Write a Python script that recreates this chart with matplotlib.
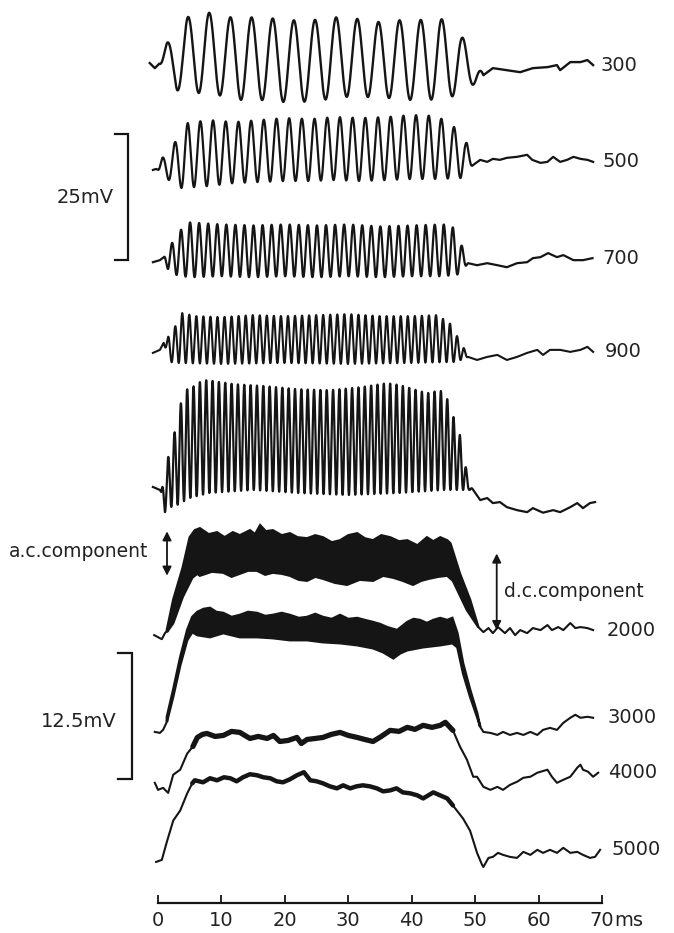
import numpy as np
import matplotlib
matplotlib.use("Agg")
import matplotlib.pyplot as plt

plt.rcParams['font.family'] = ['DejaVu Sans']

# ---------------- data (time in ms, voltage in mV) ----------------
# stimulus frequencies (Hz) of the traces, top to bottom
freqs = [300, 500, 700, 900, 1000, 2000, 3000, 4000, 5000]
labels = ["300", "500", "700", "900", "", "2000", "3000", "4000", "5000"]

# --- 300 Hz
pre300_t = [-1.3, -0.5]
pre300_v = [0.4, -0.6]
peak300 = 1.42
hi300_t = [0.2, 1.42, 4.57, 7.73, 10.9, 14.2, 17.7, 21.0, 24.3, 27.6, 30.9, 34.2, 37.7, 41.0, 44.3, 47.5, 50.3, 51.3]
hi300_v = [0.3, 4.4, 9.5, 10.5, 9.5, 9.5, 9.3, 8.9, 8.9, 9.5, 9.3, 8.5, 8.9, 8.9, 9.5, 6.5, 1.0, -2.0]
lo300_t = [0.2, 3.0, 6.2, 9.3, 12.8, 16.1, 19.4, 22.7, 26.0, 29.3, 32.6, 36.1, 39.4, 42.7, 45.9, 49.1, 51.3]
lo300_v = [0.3, -5.0, -5.5, -5.9, -6.9, -6.9, -7.3, -7.3, -6.9, -6.3, -6.3, -6.5, -6.9, -6.9, -6.5, -4.6, -2.0]
tail300_t = [52.8, 55.0, 57.1, 59.1, 61.4, 62.9, 63.4, 65.0, 66.6, 67.7, 68.6]
tail300_v = [-0.6, -1.0, -1.4, -0.6, -0.4, 0.0, -1.0, 0.6, 0.6, 1.0, 0.0]

# --- 500 Hz
pre500_t = [-0.8, -0.3]
pre500_v = [0.0, 0.2]
peak500 = 0.68
hi500_t = [0.0, 0.68, 2.68, 4.68, 8, 12, 16, 20, 24, 28, 32, 36, 40, 44, 46.7, 48.7, 49.7]
hi500_v = [0.0, 2.4, 5.5, 9.3, 9.9, 9.5, 9.9, 10.3, 10.1, 10.5, 10.3, 10.5, 10.9, 10.7, 8.5, 5.3, 1.0]
lo500_t = [0.0, 1.7, 3.7, 5.7, 8, 12, 16, 20, 24, 28, 32, 36, 40, 44, 47.7, 49.7]
lo500_v = [0.0, -2.0, -3.6, -3.4, -3.2, -2.6, -2.4, -2.2, -2.2, -2.0, -2.2, -2.0, -1.8, -1.8, -1.6, 1.0]
tail500_t = [50.8, 51.9, 52.8, 53.9, 55.0, 56.6, 58.2, 59.0, 60.3, 61.4, 62.3, 63.4, 64.5, 65.5, 66.6, 67.7, 68.6]
tail500_v = [2.0, 1.6, 2.2, 2.0, 2.4, 2.6, 3.0, 2.0, 1.4, 1.6, 2.6, 1.6, 2.0, 2.6, 2.2, 2.0, 1.6]

# --- 700 Hz
pre700_t = [-0.8, 0.3]
pre700_v = [0.0, 0.4]
peak700 = 2.2
hi700_t = [0.9, 2.2, 3.5, 5.0, 10, 15, 20, 25, 30, 35, 40, 45, 46.5, 48.0, 48.9]
hi700_v = [1.0, 3.8, 6.3, 7.9, 7.5, 7.3, 7.5, 7.3, 7.5, 7.1, 7.3, 7.5, 6.9, 3.0, -0.2]
lo700_t = [0.9, 1.6, 3.0, 5.0, 10, 15, 20, 25, 30, 35, 40, 45, 47.5, 48.9]
lo700_v = [1.0, -1.6, -2.6, -3.0, -2.8, -3.0, -2.8, -3.0, -2.8, -3.0, -2.8, -2.8, -2.4, -0.2]
tail700_t = [50.3, 51.9, 53.5, 55.0, 56.6, 58.2, 59.1, 60.3, 61.5, 62.9, 63.9, 65.5, 67.0, 68.5]
tail700_v = [-0.6, -0.2, -0.6, -1.0, -0.2, 0.0, 0.8, 1.0, 1.8, 1.0, 1.4, 0.4, 0.4, 0.8]

# --- 900 Hz
pre900_t = [-0.8, 0.3]
pre900_v = [0.0, 0.6]
peak900 = 1.6
hi900_t = [0.9, 1.6, 2.4, 3.0, 3.8, 6, 10, 15, 20, 25, 30, 35, 40, 44, 46.0, 46.8, 47.6, 48.9]
hi900_v = [2.0, 3.2, 4.6, 5.9, 7.9, 7.3, 7.1, 7.5, 7.3, 7.5, 7.7, 7.3, 7.3, 7.5, 5.9, 3.9, 2.6, -0.8]
lo900_t = [0.9, 1.8, 3.0, 10, 20, 30, 40, 47.0, 48.9]
lo900_v = [2.0, -1.8, -2.0, -2.2, -2.0, -2.2, -2.0, -1.8, -0.8]
tail900_t = [50.3, 51.9, 53.5, 55.0, 56.6, 58.2, 59.8, 60.7, 61.8, 63.4, 65.0, 66.6, 67.7, 68.6]
tail900_v = [-1.4, -0.8, -0.4, -1.4, -0.8, 0.0, 0.6, -0.4, 0.6, 0.6, 0.2, 0.6, 1.2, 0.2]

# --- 1000 Hz (unlabelled trace)
pre1000_t = [-0.8, 0.3]
pre1000_v = [0.0, -0.6]
peak1000 = 1.6
hi1000_t = [0.5, 1.6, 2.7, 3.5, 4.3, 5.4, 6.6, 7.7, 12, 17, 22, 27, 32, 36.1, 38.2, 42.4, 44.5, 46.1, 46.8, 47.6, 48.4, 48.9, 49.7]
hi1000_v = [-1.0, 5.9, 11.3, 16.2, 19.2, 19.8, 20.8, 21.2, 20.4, 20.0, 19.4, 19.2, 19.8, 20.6, 20.2, 18.6, 19.2, 16.6, 12.7, 10.3, 5.3, 0.8, -0.6]
lo1000_t = [0.5, 1.1, 2.0, 3.0, 5.0, 8, 15, 22, 30, 38, 45, 48.0, 49.7]
lo1000_v = [-1.0, -5.0, -4.0, -3.6, -2.2, -1.2, -0.6, -1.2, -1.6, -1.2, -0.6, -0.6, -0.6]
tail1000_t = [50.8, 51.9, 52.8, 53.9, 55.0, 56.6, 58.2, 59.1, 60.7, 62.3, 63.4, 65.0, 66.1, 67.0, 68.1, 68.9]
tail1000_v = [-2.6, -2.2, -3.2, -3.0, -4.0, -4.6, -5.0, -4.2, -5.1, -4.6, -5.0, -4.0, -3.2, -4.2, -3.2, -3.0]

# --- 2000 Hz (12.5 mV scale) : a.c. band edges
pre2000_t = [-0.6, 0.6, 1.1, 1.4]
pre2000_v = [0.0, -0.4, 0.2, 0.4]
top2000_t = [1.4, 2.4, 3.9, 5.0, 5.8, 6.6, 8.0, 9.3, 10.5, 11.8, 12.9, 14.5, 15.3, 16.1, 17.0, 18.1, 19.5, 20.8, 22.0, 23.5, 24.8, 26.0, 27.4, 28.7, 30.0, 31.4, 32.6, 33.9, 35.2, 36.6, 38.0, 39.3, 40.9, 42.4, 43.4, 44.5, 45.6, 46.1, 47.6, 49.2, 50.5]
top2000_v = [0.5, 3.5, 6.7, 9.7, 10.4, 10.6, 10.0, 10.2, 9.7, 10.2, 9.9, 10.4, 10.0, 10.9, 10.3, 10.4, 9.9, 10.1, 9.7, 9.6, 9.9, 9.7, 9.2, 9.4, 9.9, 10.1, 9.6, 9.4, 9.9, 9.7, 9.3, 9.4, 8.9, 9.7, 9.3, 9.7, 9.4, 9.1, 6.1, 3.5, 0.8]
bot2000_t = [1.4, 2.4, 3.9, 5.4, 6.2, 6.6, 8.5, 10.3, 11.6, 12.9, 14.2, 15.6, 16.9, 18.1, 19.5, 20.8, 22.2, 23.5, 24.8, 26.0, 27.9, 29.8, 31.8, 33.9, 35.5, 37.1, 38.6, 40.2, 41.5, 42.7, 44.2, 45.6, 46.5, 48.7, 50.5]
bot2000_v = [0.3, 1.2, 3.8, 5.7, 6.1, 5.9, 6.3, 6.2, 5.8, 6.1, 6.4, 6.4, 6.0, 6.2, 6.1, 5.9, 5.5, 5.4, 5.8, 5.6, 5.2, 5.0, 5.5, 5.4, 5.9, 5.7, 5.4, 5.0, 5.4, 5.6, 5.8, 5.9, 5.4, 2.5, 0.8]
tail2000_t = [50.5, 51.3, 52.1, 52.8, 53.6, 54.7, 55.5, 56.3, 57.1, 58.2, 59.1, 60.3, 61.4, 62.1, 63.1, 63.9, 65.0, 65.8, 66.6, 67.7, 68.6]
tail2000_v = [0.8, 0.3, 0.7, 0.2, 0.8, 0.2, 0.7, 0.0, 0.5, 0.2, 0.7, 0.5, 1.0, 0.5, 0.8, 0.5, 1.2, 0.7, 0.8, 0.7, 0.5]

# --- 3000 Hz
pre3000_t = [-0.5, 0.3, 0.8, 1.4]
pre3000_v = [0.0, -0.1, 0.2, 1.0]
top3000_t = [1.4, 2.4, 3.5, 4.6, 5.4, 6.2, 7.2, 8.2, 9.2, 10.3, 11.6, 12.9, 14.2, 15.6, 16.9, 18.1, 19.5, 20.8, 22.2, 23.5, 24.8, 26.0, 27.4, 28.7, 30.0, 31.4, 32.6, 33.9, 35.0, 36.1, 37.7, 38.5, 39.3, 40.3, 41.3, 42.4, 43.4, 44.5, 45.6, 46.4, 47.2, 48.1, 49.2, 50.3, 50.8]
top3000_v = [1.5, 4.2, 7.4, 10.1, 11.4, 11.9, 12.2, 12.3, 11.9, 11.8, 11.4, 11.6, 11.9, 11.8, 11.5, 11.6, 11.8, 11.6, 11.3, 11.4, 11.7, 11.4, 11.2, 11.6, 11.2, 11.3, 11.1, 10.9, 10.7, 10.4, 10.1, 10.5, 10.9, 11.2, 11.1, 10.8, 11.1, 11.3, 11.1, 11.3, 9.8, 6.8, 4.2, 1.9, 0.5]
bot3000_t = [1.4, 2.4, 3.5, 4.6, 5.4, 6.2, 8.2, 10.3, 12.9, 15.6, 18.1, 20.8, 23.5, 26.0, 28.7, 31.4, 33.9, 35.5, 37.1, 38.2, 39.3, 41.8, 44.5, 46.4, 47.2, 48.1, 49.2, 50.3, 50.8]
bot3000_v = [1.0, 3.5, 6.6, 9.1, 9.9, 9.6, 9.4, 9.8, 9.4, 9.4, 9.3, 9.1, 9.1, 8.9, 8.8, 8.6, 8.3, 7.9, 7.3, 7.8, 8.1, 8.4, 8.6, 8.8, 8.4, 5.8, 3.5, 1.5, 0.5]
tail3000_t = [50.8, 51.3, 52.4, 53.5, 54.4, 55.5, 56.6, 57.6, 58.7, 59.8, 60.7, 61.8, 62.9, 63.9, 65.0, 65.8, 66.6, 67.7, 68.6]
tail3000_v = [0.5, 0.0, -0.1, -0.3, 0.0, -0.3, -0.1, -0.3, 0.0, -0.3, 0.2, 0.4, 0.2, 0.9, 1.4, 1.7, 1.4, 1.5, 1.4]

# --- 4000 Hz (a.c. part merges into a thick line)
pre4000_t = [-0.5, 0.0, 0.8, 1.6]
pre4000_v = [0.7, 0.0, 0.2, -0.3]
resp4000_t = [1.6, 2.4, 3.5, 4.6, 5.5, 6.2, 7.0, 7.7, 9.0, 10.3, 11.6, 12.9, 14.5, 15.8, 17.2, 18.2, 19.2, 20.5, 21.9, 22.6, 23.5, 24.8, 26.0, 27.3, 28.7, 30.0, 31.4, 32.6, 33.9, 35.2, 36.6, 38.0, 39.3, 40.5, 41.8, 43.2, 44.5, 45.3, 46.5, 47.6, 48.7, 49.7]
resp4000_v = [-0.3, 1.5, 2.0, 3.6, 4.3, 5.2, 5.5, 5.6, 5.3, 5.4, 5.8, 5.7, 5.1, 5.3, 5.1, 5.4, 4.8, 4.9, 5.2, 4.6, 5.0, 5.1, 5.2, 5.5, 5.7, 5.4, 5.2, 5.0, 4.8, 5.3, 5.9, 5.8, 6.2, 6.0, 6.4, 6.2, 6.4, 6.7, 5.9, 4.3, 3.0, 1.3]
tail4000_t = [49.7, 50.3, 51.3, 52.4, 53.5, 54.4, 55.5, 56.6, 57.6, 58.7, 59.8, 61.4, 62.1, 62.9, 63.9, 65.0, 66.1, 66.6, 67.0, 67.8, 68.6, 69.4]
tail4000_v = [1.3, 1.3, 0.3, 0.0, 0.3, 0.0, 0.5, 0.8, 1.2, 1.3, 1.7, 2.0, 1.3, 0.7, 1.0, 1.3, 2.2, 2.5, 2.0, 1.8, 1.3, 1.7]

# --- 5000 Hz
pre5000_t = [-0.3, 0.6]
pre5000_v = [0.0, 0.2]
resp5000_t = [0.6, 1.4, 2.4, 3.5, 4.6, 5.4, 5.8, 7.1, 8.2, 9.3, 10.4, 11.4, 12.4, 13.4, 14.5, 15.6, 16.6, 17.7, 18.7, 19.7, 20.8, 21.9, 23.0, 24.0, 25.0, 26.0, 27.1, 28.2, 29.2, 30.3, 31.3, 32.3, 33.4, 34.5, 35.5, 36.6, 37.6, 38.6, 39.8, 40.9, 41.8, 43.4, 44.5, 45.6, 46.5, 48.1, 49.2, 50.3, 51.1]
resp5000_v = [0.2, 2.0, 4.1, 5.1, 6.8, 7.8, 8.1, 7.9, 8.3, 8.1, 8.4, 8.3, 8.0, 8.4, 8.7, 8.6, 8.4, 8.3, 8.0, 7.9, 8.2, 8.6, 8.9, 8.1, 8.0, 7.8, 7.5, 7.3, 7.6, 7.3, 7.5, 7.6, 7.5, 7.3, 7.0, 7.1, 7.3, 6.9, 6.8, 6.6, 6.3, 6.9, 6.6, 6.3, 5.6, 4.3, 3.1, 0.9, -0.3]
tail5000_t = [51.1, 51.3, 52.1, 52.8, 53.6, 54.4, 55.5, 56.6, 57.6, 58.7, 59.8, 60.7, 61.8, 62.9, 63.9, 65.0, 66.1, 67.0, 68.1, 68.9, 69.7]
tail5000_v = [-0.3, -0.5, 0.4, 0.5, 0.9, 0.7, 0.5, 0.4, 1.0, 0.7, 1.2, 0.9, 1.2, 0.9, 1.4, 0.9, 1.0, 0.7, 0.4, 0.5, 1.2]

# a.c. / d.c. component markers on the 2000 Hz trace (mV)
ac_top, ac_bot = 10.3, 5.9
dc_top, dc_bot = 8.1, 0.5

# time scale
time_ticks = [0, 10, 20, 30, 40, 50, 60, 70]

# ---------------- layout ----------------
PX_PER_MS = 6.343
PX_PER_UNIT = 5.04           # pixels per mV on the 25 mV scale
W, H = 674, 933
base = [172.2, 151.4, 133.1, 115.1, 88.5, 59.1, 39.9, 28.4, 14.1]
gain = [1, 1, 1, 1, 1, 2, 2, 2, 2]   # lower traces drawn at 12.5 mV scale
label_x = [69.8, 70.0, 70.0, 70.4, None, 70.8, 70.9, 70.9, 71.5]
INK = "#151515"
TXT = "#222222"

fig = plt.figure(figsize=(W / 100, H / 100), dpi=100)
ax = fig.add_axes([0, 0, 1, 1])
ax.set_xlim(-158 / PX_PER_MS, (W - 158) / PX_PER_MS)
ax.set_ylim(0, H / PX_PER_UNIT)


def osc(f_hz, tp, hi_t, hi_v, lo_t, lo_v):
    t0 = min(hi_t[0], lo_t[0])
    t1 = max(hi_t[-1], lo_t[-1])
    t = np.append(np.arange(t0, t1, 0.004), t1)
    hi = np.interp(t, hi_t, hi_v)
    lo = np.interp(t, lo_t, lo_v)
    return t, lo + (hi - lo) * 0.5 * (1 + np.cos(2 * np.pi * f_hz / 1000.0 * (t - tp)))


osc_sets = [
    (pre300_t, pre300_v, peak300, hi300_t, hi300_v, lo300_t, lo300_v, tail300_t, tail300_v, 1.7),
    (pre500_t, pre500_v, peak500, hi500_t, hi500_v, lo500_t, lo500_v, tail500_t, tail500_v, 1.6),
    (pre700_t, pre700_v, peak700, hi700_t, hi700_v, lo700_t, lo700_v, tail700_t, tail700_v, 1.6),
    (pre900_t, pre900_v, peak900, hi900_t, hi900_v, lo900_t, lo900_v, tail900_t, tail900_v, 1.5),
    (pre1000_t, pre1000_v, peak1000, hi1000_t, hi1000_v, lo1000_t, lo1000_v, tail1000_t, tail1000_v, 1.6),
]
tail_ends = []
for i, (pt, pv, tp, ht, hv, lt, lv, tt, tv, lw) in enumerate(osc_sets):
    t, v = osc(freqs[i], tp, ht, hv, lt, lv)
    tt_all = np.concatenate([pt, t, tt])
    vv_all = np.concatenate([pv, v, tv])
    ax.plot(tt_all, base[i] + gain[i] * vv_all, color=INK, lw=lw,
            solid_joinstyle="round")
    tail_ends.append(tv[-1])

band_sets = [
    (pre2000_t, pre2000_v, top2000_t, top2000_v, bot2000_t, bot2000_v, tail2000_t, tail2000_v),
    (pre3000_t, pre3000_v, top3000_t, top3000_v, bot3000_t, bot3000_v, tail3000_t, tail3000_v),
]
for j, (pt, pv, tt_, tv_, bt, bv, tlt, tlv) in enumerate(band_sets):
    i = 5 + j
    b, g = base[i], gain[i]
    poly_t = np.concatenate([tt_, bt[::-1]])
    poly_v = np.concatenate([tv_, bv[::-1]])
    ax.fill(poly_t, b + g * poly_v, color=INK, lw=1.8, edgecolor=INK)
    ax.plot(pt, b + g * np.array(pv), color=INK, lw=1.5)
    ax.plot(tlt, b + g * np.array(tlv), color=INK, lw=1.5)
    tail_ends.append(tlv[-1])

line_sets = [
    (pre4000_t, pre4000_v, resp4000_t, resp4000_v, tail4000_t, tail4000_v, 3.8),
    (pre5000_t, pre5000_v, resp5000_t, resp5000_v, tail5000_t, tail5000_v, 3.2),
]
for j, (pt, pv, rt, rv, tlt, tlv, thick) in enumerate(line_sets):
    i = 7 + j
    b, g = base[i], gain[i]
    rt = np.array(rt)
    rv = np.array(rv)
    ax.plot(np.concatenate([pt, rt, tlt]), b + g * np.concatenate([pv, rv, tlv]),
            color=INK, lw=1.5)
    m = (rt >= 5.4) & (rt <= 46.6)
    ax.plot(rt[m], b + g * rv[m], color=INK, lw=thick, solid_capstyle="round",
            solid_joinstyle="round")
    tail_ends.append(tlv[-1])

# frequency labels
for i, lab in enumerate(labels):
    if lab:
        ax.text(label_x[i], base[i] + gain[i] * tail_ends[i], lab, fontsize=14,
                color=TXT, ha="left", va="center")

# voltage scale bars
def bracket(x, y0, y1, arm):
    ax.plot([x - arm, x, x, x - arm], [y1, y1, y0, y0], color=INK, lw=1.6,
            solid_joinstyle="miter")

bracket(-4.73, 133.5, 133.5 + 25, 2.0)
ax.text(-7.0, 133.5 + 12.5, "25mV", fontsize=14, color=TXT, ha="right", va="center")
bracket(-4.10, 30.6, 30.6 + 12.5 * 2, 2.2)
ax.text(-6.5, 42.0, "12.5mV", fontsize=14, color=TXT, ha="right", va="center")

# a.c. / d.c. component annotations
arrow_kw = dict(arrowstyle="<|-|>", color=INK, lw=1.3, mutation_scale=13,
                shrinkA=0, shrinkB=0)
b2, g2 = base[5], gain[5]
ax.annotate("", xy=(1.42, b2 + g2 * ac_top), xytext=(1.42, b2 + g2 * ac_bot),
            arrowprops=arrow_kw)
ax.text(-1.6, 75.6, "a.c.component", fontsize=13.5, color=TXT,
        ha="right", va="center")
ax.annotate("", xy=(53.4, b2 + g2 * dc_top), xytext=(53.4, b2 + g2 * dc_bot),
            arrowprops=arrow_kw)
ax.text(54.5, 67.7, "d.c.component", fontsize=13.5, color=TXT,
        ha="left", va="center")

# time scale
for s in ["top", "left", "right"]:
    ax.spines[s].set_visible(False)
ax.spines["bottom"].set_position(("data", 5.95))
ax.spines["bottom"].set_bounds(0, 70)
ax.spines["bottom"].set_linewidth(1.6)
ax.spines["bottom"].set_color(INK)
ax.set_xticks(time_ticks)
ax.set_yticks([])
ax.tick_params(axis="x", direction="in", length=6, width=1.3, colors=INK,
               labelsize=14, pad=5.5, labelcolor=TXT)
ax.text(71.9, 5.95 - 5.5 * 1.389 / PX_PER_UNIT, "ms", fontsize=14, color=TXT,
        ha="left", va="top")

fig.savefig("out.png", dpi=100)
